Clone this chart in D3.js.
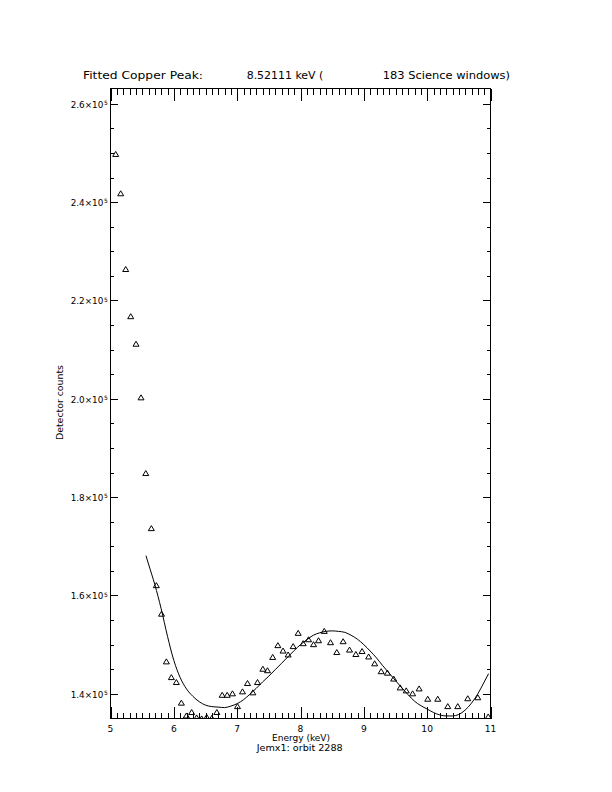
<!DOCTYPE html>
<html><head><meta charset="utf-8">
<script src="https://cdn.jsdelivr.net/npm/d3@7/dist/d3.min.js"></script>
<style>body{margin:0;background:#fff}svg{display:block}</style>
</head><body><script>
// ---- data ----
const energy = [5.082, 5.161, 5.240, 5.319, 5.403, 5.482, 5.557, 5.645, 5.724, 5.806,
  5.882, 5.961, 6.040, 6.119, 6.198, 6.281, 6.360, 6.439, 6.519, 6.600,
  6.679, 6.763, 6.842, 6.926, 7.005, 7.084, 7.163, 7.248, 7.321, 7.406,
  7.479, 7.561, 7.643, 7.724, 7.805, 7.884, 7.963, 8.042, 8.127, 8.206,
  8.285, 8.375, 8.474, 8.573, 8.673, 8.774, 8.874, 8.972, 9.076, 9.171,
  9.274, 9.372, 9.471, 9.574, 9.669, 9.770, 9.873, 10.009, 10.167, 10.325,
  10.483, 10.641, 10.799, 10.964];
const counts = [249800, 241800, 226400, 216800, 211200, 200300, 184900, 173700, 162100, 156300,
  146600, 143400, 142400, 138200, 135600, 136300, 135200, 135000, 135300, 135100,
  136300, 139800, 139800, 140100, 137500, 140500, 142200, 140300, 142400, 145100,
  144800, 147500, 149900, 148800, 148000, 149700, 152400, 150300, 151100, 150100,
  150900, 152800, 150500, 148500, 150700, 149000, 148100, 148700, 147600, 146200,
  144600, 144300, 143100, 141300, 140700, 140100, 141100, 139000, 139000, 137500,
  137500, 139100, 139300, 135400];
const fitEnergy = [5.56, 5.6, 5.7, 5.8, 5.9, 6.0, 6.1, 6.2, 6.3, 6.4, 6.5, 6.6, 6.7, 6.8, 6.9,
  7.0, 7.1, 7.2, 7.3, 7.4, 7.5, 7.6, 7.7, 7.8, 7.9, 8.0, 8.1, 8.2, 8.3, 8.4, 8.5, 8.6, 8.7,
  8.8, 8.9, 9.0, 9.1, 9.2, 9.3, 9.4, 9.5, 9.6, 9.7, 9.8, 9.9, 10.0, 10.1, 10.2, 10.3, 10.4,
  10.5, 10.6, 10.7, 10.8, 10.9, 10.97];
const fitCounts = [168100, 166400, 162200, 157300, 151700, 146800, 143300, 141000, 139500, 138400,
  137700, 137400, 137300, 137200, 137500, 138000, 138800, 139900, 141100, 142400, 143600,
  144900, 146200, 147500, 148800, 150000, 151000, 151900, 152400, 152700, 152800, 152700,
  152500, 151900, 151100, 150000, 148700, 147300, 145700, 144200, 142700, 141200, 139800,
  138500, 137600, 136900, 136200, 135700, 135500, 135500, 135800, 136700, 138100, 140000,
  142400, 144100];
const xTickValues = [5, 6, 7, 8, 9, 10, 11];
const xTickLabels = ["5", "6", "7", "8", "9", "10", "11"];
const yTickValues = [140000, 160000, 180000, 200000, 220000, 240000, 260000];
const yTickMantissa = ["1.4", "1.6", "1.8", "2.0", "2.2", "2.4", "2.6"];
const yTickExponent = ["5", "5", "5", "5", "5", "5", "5"];
const titleParts = ["Fitted Copper Peak:", "8.52111 keV (", "183 Science windows)"];
const xTitle = "Energy (keV)";
const subTitle = "Jemx1: orbit 2288";
const yTitle = "Detector counts";

// ---- layout ----
const W = 612, H = 792;
const L = 110.5, R = 490.5, T = 88.5, B = 718.5;
const FONT = "DejaVu Sans, sans-serif";
const x = d3.scaleLinear().domain([5, 11]).range([L, R]);
const y = d3.scaleLinear().domain([134980, 263110]).range([B, T]);

const svg = d3.select("body").append("svg").attr("width", W).attr("height", H)
  .attr("viewBox", `0 0 ${W} ${H}`);
svg.append("rect").attr("width", W).attr("height", H).attr("fill", "#fff");

svg.append("defs").append("clipPath").attr("id", "plotclip")
  .append("rect").attr("x", L).attr("y", T).attr("width", R - L).attr("height", B - T);

// axes (ticks inward)
const xMinor = x.ticks(60).filter(v => Math.abs(v - Math.round(v)) > 1e-6);
const yMinor = d3.range(135000, 263110, 5000).filter(v => v % 20000 !== 0);
function styleAxis(g) {
  g.select(".domain").remove();
  g.selectAll("line").attr("stroke", "#000").attr("shape-rendering", "crispEdges");
  g.selectAll("text").remove();
}
const XMAJ = 12, XMIN = 6, YMAJ = 7.6, YMIN = 3.8;
svg.append("g").attr("transform", `translate(0,${B})`)
  .call(d3.axisBottom(x).tickValues(xTickValues).tickSizeInner(-XMAJ).tickSizeOuter(0)).call(styleAxis);
svg.append("g").attr("transform", `translate(0,${B})`)
  .call(d3.axisBottom(x).tickValues(xMinor).tickSizeInner(-XMIN).tickSizeOuter(0)).call(styleAxis);
svg.append("g").attr("transform", `translate(0,${T})`)
  .call(d3.axisTop(x).tickValues(xTickValues).tickSizeInner(-XMAJ).tickSizeOuter(0)).call(styleAxis);
svg.append("g").attr("transform", `translate(0,${T})`)
  .call(d3.axisTop(x).tickValues(xMinor).tickSizeInner(-XMIN).tickSizeOuter(0)).call(styleAxis);
svg.append("g").attr("transform", `translate(${L},0)`)
  .call(d3.axisLeft(y).tickValues(yTickValues).tickSizeInner(-YMAJ).tickSizeOuter(0)).call(styleAxis);
svg.append("g").attr("transform", `translate(${L},0)`)
  .call(d3.axisLeft(y).tickValues(yMinor).tickSizeInner(-YMIN).tickSizeOuter(0)).call(styleAxis);
svg.append("g").attr("transform", `translate(${R},0)`)
  .call(d3.axisRight(y).tickValues(yTickValues).tickSizeInner(-YMAJ).tickSizeOuter(0)).call(styleAxis);
svg.append("g").attr("transform", `translate(${R},0)`)
  .call(d3.axisRight(y).tickValues(yMinor).tickSizeInner(-YMIN).tickSizeOuter(0)).call(styleAxis);

// frame
svg.append("rect").attr("x", L).attr("y", T).attr("width", R - L).attr("height", B - T)
  .attr("fill", "none").attr("stroke", "#000").attr("stroke-width", 1).attr("shape-rendering", "crispEdges");

// x tick labels
svg.append("g").selectAll("text").data(xTickValues).join("text")
  .attr("x", d => x(d)).attr("y", 731.5).attr("text-anchor", "middle")
  .attr("font-family", FONT).attr("font-size", 8.5)
  .attr("textLength", (d, i) => xTickLabels[i].length * 5.8).attr("lengthAdjust", "spacingAndGlyphs")
  .text((d, i) => xTickLabels[i]);

// y tick labels with superscript exponent
const yl = svg.append("g");
yl.selectAll("text.m").data(yTickValues).join("text").attr("class", "m")
  .attr("x", 70.7).attr("y", d => y(d) + 3.8)
  .attr("font-family", FONT).attr("font-size", 9)
  .attr("textLength", 32.6).attr("lengthAdjust", "spacingAndGlyphs")
  .text((d, i) => yTickMantissa[i] + "\u00d710");
yl.selectAll("text.e").data(yTickValues).join("text").attr("class", "e")
  .attr("x", 104).attr("y", d => y(d) + 1.2)
  .attr("font-family", FONT).attr("font-size", 6)
  .text((d, i) => yTickExponent[i]);

// titles
const tx = [[83, 120], [246.7, 76.6], [382.7, 127.3]];
svg.append("g").selectAll("text").data(titleParts).join("text")
  .attr("x", (d, i) => tx[i][0]).attr("y", 79)
  .attr("font-family", FONT).attr("font-size", 10)
  .attr("textLength", (d, i) => tx[i][1]).attr("lengthAdjust", "spacingAndGlyphs")
  .text(d => d);
svg.append("text").attr("x", 301).attr("y", 741).attr("text-anchor", "middle")
  .attr("font-family", FONT).attr("font-size", 8.5)
  .attr("textLength", 58).attr("lengthAdjust", "spacingAndGlyphs").text(xTitle);
svg.append("text").attr("x", 299.7).attr("y", 750.5).attr("text-anchor", "middle")
  .attr("font-family", FONT).attr("font-size", 8.5)
  .attr("textLength", 86).attr("lengthAdjust", "spacingAndGlyphs").text(subTitle);
svg.append("text").attr("transform", "translate(63.3,402.5) rotate(-90)").attr("text-anchor", "middle")
  .attr("font-family", FONT).attr("font-size", 9)
  .attr("textLength", 75).attr("lengthAdjust", "spacingAndGlyphs").text(yTitle);

// plot contents
const plot = svg.append("g").attr("clip-path", "url(#plotclip)");
const fit = fitEnergy.map((e, i) => [e, fitCounts[i]]);
plot.append("path").datum(fit)
  .attr("d", d3.line().x(d => x(d[0])).y(d => y(d[1])).curve(d3.curveMonotoneX))
  .attr("fill", "none").attr("stroke", "#000").attr("stroke-width", 1);
const tri = "M-3,2.5L0,-2.5L3,2.5Z";
plot.selectAll("path.pt").data(energy).join("path").attr("class", "pt")
  .attr("transform", (d, i) => `translate(${x(d)},${y(counts[i])})`)
  .attr("d", tri).attr("fill", "none").attr("stroke", "#000").attr("stroke-width", 1);
</script></body></html>
